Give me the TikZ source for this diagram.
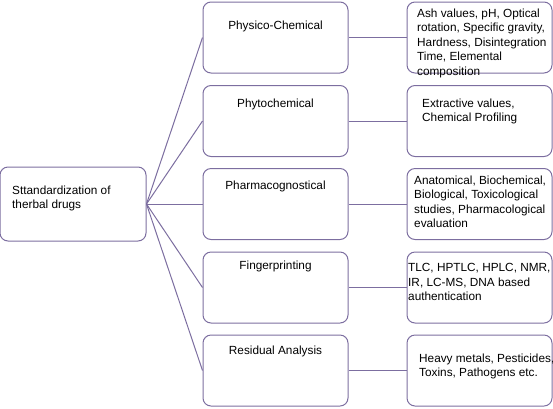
\documentclass[tikz,border=0pt]{standalone}
\usepackage{fontspec}
\setmainfont{Liberation Sans}

\definecolor{boxline}{RGB}{124,110,160}

\tikzset{
	chartbox/.style={draw=boxline, line width=1pt, rounded corners=8pt, minimum width=145pt, minimum height=71pt, inner sep=0pt},
	link/.style={draw=boxline, line width=1pt},
	boxtext/.style={inner sep=0pt, font=\fontsize{11.8}{14.5}\selectfont, align=left}
}

\begin{document}
\begin{tikzpicture}[x=1pt,y=-1pt]
			\useasboundingbox (0,0) rectangle (553,408);

			% standardization
			\node[chartbox, minimum width=146pt, minimum height=74pt] (root) at (73,204) {};
			\node[boxtext, anchor=north west] (roottext) at (12,185.4) {Sttandardization of\\therbal drugs};

			% categories
			\node[chartbox] (phys) at (275.5,37.5) {};
			\node[chartbox] (phyto) at (275.5,121) {};
			\node[chartbox] (pharm) at (275.5,204) {};
			\node[chartbox] (finger) at (275.5,287.5) {};
			\node[chartbox] (resid) at (275.5,370.5) {};
			\node[boxtext, anchor=base] (physlabel) at (275.5,29) {Physico-Chemical};
			\node[boxtext, anchor=base] (phytolabel) at (275.5,107) {Phytochemical};
			\node[boxtext, anchor=base] (pharmlabel) at (275.5,189) {Pharmacognostical};
			\node[boxtext, anchor=base] (fingerlabel) at (275.5,269) {Fingerprinting};
			\node[boxtext, anchor=base] (residlabel) at (275.5,354) {Residual Analysis};

			% details
			\node[chartbox] (physinfo) at (479.5,37.5) {};
			\node[chartbox] (phytoinfo) at (479.5,121) {};
			\node[chartbox] (pharminfo) at (479.5,204) {};
			\node[chartbox] (fingerinfo) at (479.5,287.5) {};
			\node[chartbox] (residinfo) at (479.5,370.5) {};
			\node[boxtext, anchor=north west] (physdetail) at (417,8.4) {Ash values, pH, Optical\\rotation, Specific gravity,\\Hardness, Disintegration\\Time, Elemental\\composition};
			\node[boxtext, anchor=north west] (phytodetail) at (422,98.4) {Extractive values,\\Chemical Profiling};
			\node[boxtext, anchor=north west] (pharmdetail) at (414,175.4) {Anatomical, Biochemical,\\Biological, Toxicological\\studies, Pharmacological\\evaluation};
			\node[boxtext, anchor=north west] (fingerdetail) at (408,263.4) {TLC, HPTLC, HPLC, NMR,\\IR, LC-MS, DNA based\\authentication};
			\node[boxtext, anchor=north west] (residdetail) at (419,353.4) {Heavy metals, Pesticides,\\Toxins, Pathogens etc.};

			% links
			\foreach \cat in {phys,phyto,pharm,finger,resid} {
				\draw[link] (root.east) -- (\cat.west);
				\draw[link] (\cat.east) -- (\cat info.west);
			}
		\end{tikzpicture}
\end{document}
